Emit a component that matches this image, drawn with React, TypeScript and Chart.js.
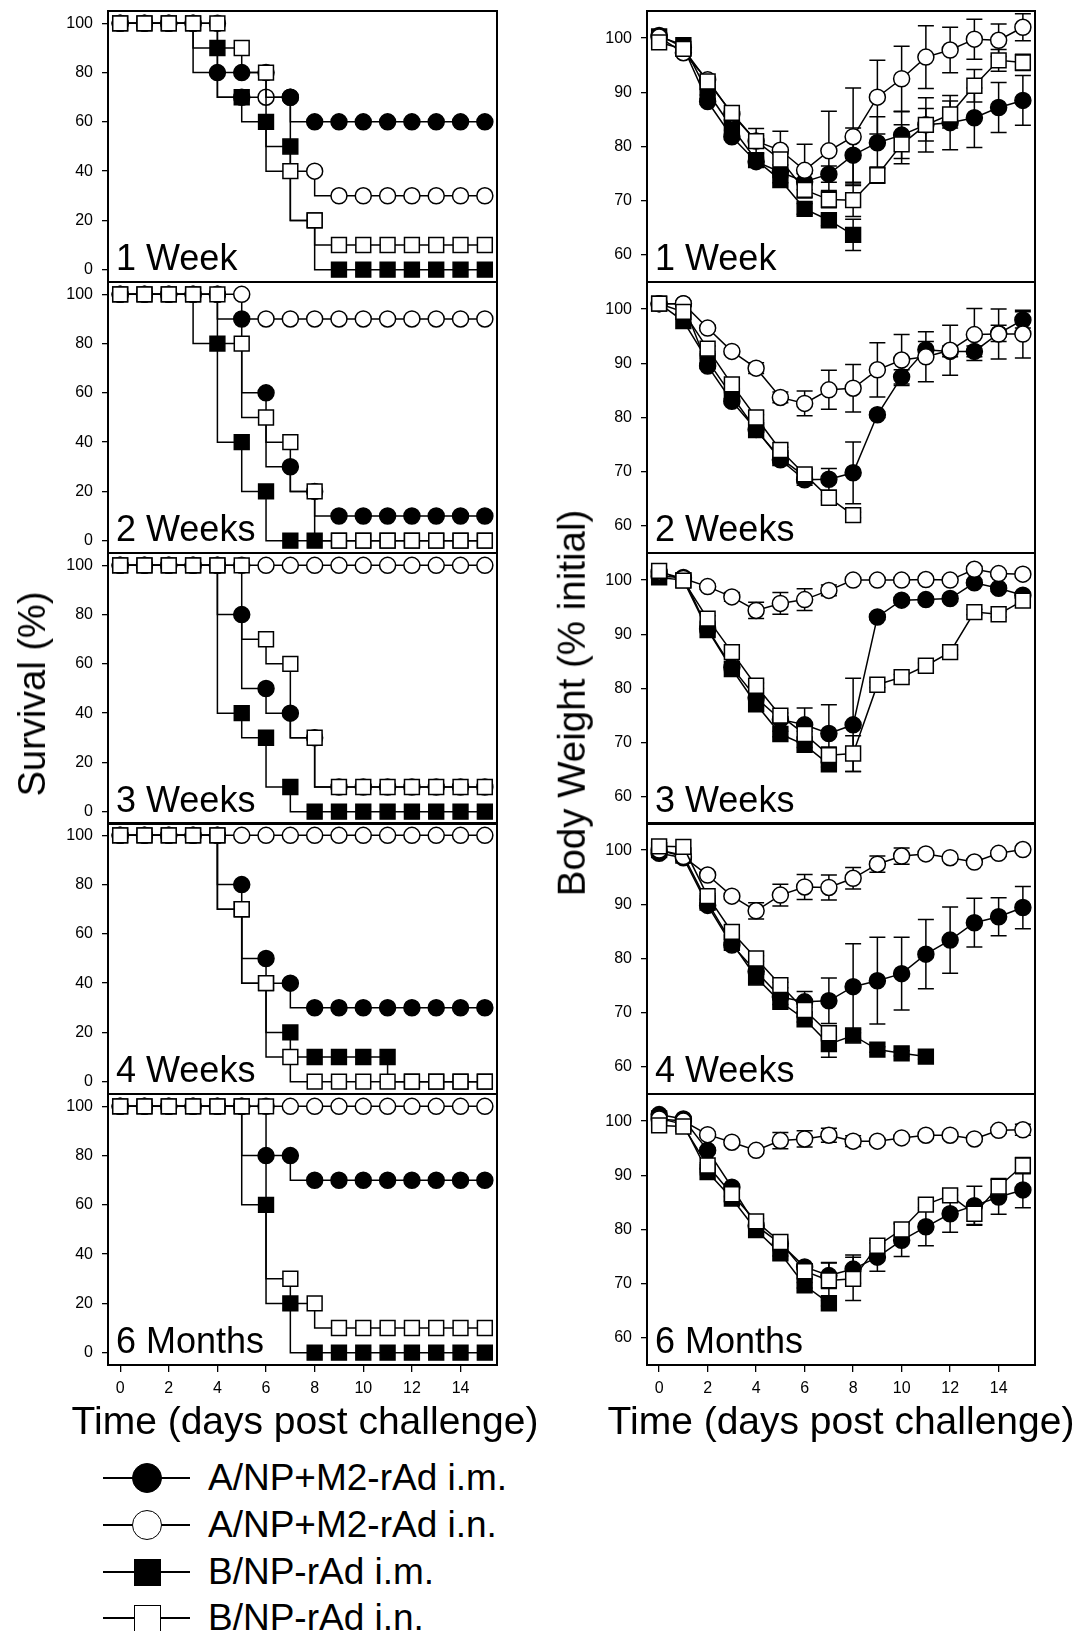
import React, { useEffect, useRef } from "react";
import { Chart, registerables } from "chart.js";

Chart.register(...registerables);

const FONT = '"Liberation Sans", Arial, Helvetica, sans-serif';

// ---------- categories / labels ----------
const days = [0, 1, 2, 3, 4, 5, 6, 7, 8, 9, 10, 11, 12, 13, 14, 15];
const dayTicks = [0, 2, 4, 6, 8, 10, 12, 14];
const survivalTicks = [0, 20, 40, 60, 80, 100];
const weightTicks = [60, 70, 80, 90, 100];
const panelLabels = ["1 Week", "2 Weeks", "3 Weeks", "4 Weeks", "6 Months"];
const groupNames = ["A/NP+M2-rAd i.m.", "A/NP+M2-rAd i.n.", "B/NP-rAd i.m.", "B/NP-rAd i.n."];

// ---------- survival (%) ----------
const sAim1w = [100, 100, 100, 100, 80, 80, 80, 70, 60, 60, 60, 60, 60, 60, 60, 60];
const sAin1w = [100, 100, 100, 100, 100, 70, 70, 70, 40, 30, 30, 30, 30, 30, 30, 30];
const sBim1w = [100, 100, 100, 100, 90, 70, 60, 50, 20, 0, 0, 0, 0, 0, 0, 0];
const sBin1w = [100, 100, 100, 100, 100, 90, 80, 40, 20, 10, 10, 10, 10, 10, 10, 10];

const sAim2w = [100, 100, 100, 100, 100, 90, 60, 30, 20, 10, 10, 10, 10, 10, 10, 10];
const sAin2w = [100, 100, 100, 100, 100, 100, 90, 90, 90, 90, 90, 90, 90, 90, 90, 90];
const sBim2w = [100, 100, 100, 100, 80, 40, 20, 0, 0, 0, 0, 0, 0, 0, 0, 0];
const sBin2w = [100, 100, 100, 100, 100, 80, 50, 40, 20, 0, 0, 0, 0, 0, 0, 0];

const sAim3w = [100, 100, 100, 100, 100, 80, 50, 40, 30, 10, 10, 10, 10, 10, 10, 10];
const sAin3w = [100, 100, 100, 100, 100, 100, 100, 100, 100, 100, 100, 100, 100, 100, 100, 100];
const sBim3w = [100, 100, 100, 100, 100, 40, 30, 10, 0, 0, 0, 0, 0, 0, 0, 0];
const sBin3w = [100, 100, 100, 100, 100, 100, 70, 60, 30, 10, 10, 10, 10, 10, 10, 10];

const sAim4w = [100, 100, 100, 100, 100, 80, 50, 40, 30, 30, 30, 30, 30, 30, 30, 30];
const sAin4w = [100, 100, 100, 100, 100, 100, 100, 100, 100, 100, 100, 100, 100, 100, 100, 100];
const sBim4w = [100, 100, 100, 100, 100, 70, 40, 20, 10, 10, 10, 10, 0, 0, 0, 0];
const sBin4w = [100, 100, 100, 100, 100, 70, 40, 10, 0, 0, 0, 0, 0, 0, 0, 0];

const sAim6m = [100, 100, 100, 100, 100, 100, 80, 80, 70, 70, 70, 70, 70, 70, 70, 70];
const sAin6m = [100, 100, 100, 100, 100, 100, 100, 100, 100, 100, 100, 100, 100, 100, 100, 100];
const sBim6m = [100, 100, 100, 100, 100, 100, 60, 20, 0, 0, 0, 0, 0, 0, 0, 0];
const sBin6m = [100, 100, 100, 100, 100, 100, 100, 30, 20, 10, 10, 10, 10, 10, 10, 10];

// ---------- body weight (% initial) and error bars ----------
const wAim1w = [100.5, 98.3, 88.3, 81.8, 77.2, 75.3, 73.5, 74.9, 78.4, 80.7, 82.1, 84.0, 84.4, 85.3, 87.2, 88.5];
const eAim1w = [0, 0, 0.5, 0.5, 0.6, 0.8, 1.5, 1.5, 5.0, 4.8, 4.3, 5.0, 5.0, 5.5, 4.6, 4.6];
const wAin1w = [100.2, 97.3, 92.3, 86.0, 81.0, 79.3, 75.6, 79.2, 81.8, 89.1, 92.5, 96.5, 97.8, 99.8, 99.6, 102.0];
const eAin1w = [0, 0.5, 0.5, 1.0, 2.3, 3.5, 4.8, 7.3, 9.0, 6.8, 6.0, 5.8, 4.2, 3.7, 3.0, 2.5];
const wBim1w = [100.3, 98.7, 90.0, 83.5, 77.5, 73.8, 68.5, 66.4, 63.7, null, null, null, null, null, null, null];
const eBim1w = [0, 0, 0.5, 0.5, 0.5, 0.5, 1.0, 1.0, 2.9, null, null, null, null, null, null, null];
const wBin1w = [99.2, 98.0, 92.0, 86.2, 81.0, 77.6, 72.0, 70.2, 70.1, 74.7, 80.4, 84.0, 85.9, 91.2, 95.9, 95.5];
const eBin1w = [0, 0, 0.5, 0.5, 1.0, 1.0, 1.5, 1.5, 3.0, 1.5, 3.6, 3.0, 2.5, 3.0, 2.0, 1.5];

const wAim2w = [101.0, 101.0, 89.5, 83.0, 77.8, 72.2, 68.5, 68.6, 69.8, 80.5, 87.5, 92.5, 92.2, 92.2, 95.5, 98.0];
const eAim2w = [0, 0.5, 0.5, 0.5, 0.5, 0.5, 1.0, 2.0, 5.7, 0.5, 1.3, 1.5, 1.0, 1.0, 1.5, 1.5];
const wAin2w = [101.0, 101.0, 96.5, 92.2, 89.1, 83.7, 82.6, 85.1, 85.4, 88.8, 90.6, 91.2, 92.4, 95.3, 95.4, 95.4];
const eAin2w = [0, 0, 0.5, 0.5, 1.0, 1.0, 2.3, 3.6, 4.4, 5.0, 4.7, 4.6, 4.6, 4.8, 4.6, 4.4];
const wBim2w = [101.0, 97.8, 90.5, 84.0, 77.7, 72.5, 69.2, null, null, null, null, null, null, null, null, null];
const eBim2w = [0, 0, 0.5, 0.5, 0.5, 0.5, 0.5, null, null, null, null, null, null, null, null, null];
const wBin2w = [101.0, 99.5, 92.7, 86.1, 80.0, 74.0, 69.5, 65.2, 62.0, null, null, null, null, null, null, null];
const eBin2w = [0, 0, 0.5, 0.5, 0.5, 0.5, 0.5, 0.5, 0.5, null, null, null, null, null, null, null];

const wAim3w = [100.7, 100.5, 91.0, 83.9, 78.3, 74.3, 73.3, 71.7, 73.3, 93.2, 96.3, 96.4, 96.6, 99.5, 98.5, 97.2];
const eAim3w = [0, 0, 0.5, 0.5, 0.5, 0.5, 3.1, 5.3, 8.6, 0.5, 0.5, 0.5, 0.5, 0.5, 0.5, 0.5];
const wAin3w = [101.5, 100.3, 98.8, 96.9, 94.4, 95.7, 96.4, 98.1, 100.0, 100.0, 100.0, 100.1, 100.0, 102.0, 101.2, 101.1];
const eAin3w = [0, 0, 0.5, 0.8, 1.5, 2.0, 2.0, 1.0, 0.5, 0.5, 0.5, 0.5, 0.5, 0.5, 0.5, 0.5];
const wBim3w = [100.5, 100.0, 90.8, 83.6, 77.1, 71.6, 69.6, 66.0, null, null, null, null, null, null, null, null];
const eBim3w = [0, 0, 0.5, 0.5, 0.5, 0.5, 0.5, 0.5, null, null, null, null, null, null, null, null];
const wBin3w = [101.7, 99.9, 92.9, 86.7, 80.5, 75.0, 71.6, 67.7, 68.0, 80.7, 82.1, 84.2, 86.7, 94.1, 93.7, 96.2];
const eBin3w = [0, 0, 0.5, 0.5, 0.5, 0.5, 0.5, 1.5, 3.3, 0.5, 0.5, 0.5, 0.5, 0.5, 0.5, 0.5];

const wAim4w = [99.4, 98.6, 89.8, 82.5, 77.6, 72.9, 72.0, 72.2, 74.8, 75.9, 77.2, 80.8, 83.4, 86.6, 87.7, 89.4];
const eAim4w = [0, 0, 0.5, 0.5, 0.5, 0.5, 1.9, 4.2, 7.9, 8.0, 6.7, 6.4, 6.1, 4.5, 3.5, 3.9];
const wAin4w = [100.0, 98.8, 95.4, 91.5, 88.8, 91.7, 93.2, 93.1, 94.8, 97.4, 98.9, 99.3, 98.6, 97.8, 99.4, 100.1];
const eAin4w = [0, 0.5, 0.5, 0.5, 1.5, 2.0, 2.3, 2.3, 2.0, 1.5, 1.5, 0.5, 0.5, 0.5, 0.5, 0.5];
const wBim4w = [100.0, 99.0, 90.3, 82.9, 76.5, 72.0, 68.8, 64.2, 65.8, 63.2, 62.5, 61.9, null, null, null, null];
const eBim4w = [0, 0, 0.5, 0.5, 0.5, 0.5, 0.5, 2.4, 0.5, 0.5, 0.5, 0.5, null, null, null, null];
const wBin4w = [100.7, 100.6, 91.5, 84.9, 80.0, 75.1, 70.5, 66.2, null, null, null, null, null, null, null, null];
const eBin4w = [0, 0, 0.5, 0.5, 0.5, 0.5, 0.5, 0.5, null, null, null, null, null, null, null, null];

const wAim6m = [101.2, 100.4, 94.6, 87.8, 80.7, 77.4, 73.1, 71.5, 72.7, 74.9, 78.0, 80.5, 82.9, 84.4, 86.0, 87.3];
const eAim6m = [0, 0, 0.5, 0.5, 0.5, 0.5, 0.5, 2.4, 2.6, 2.6, 3.0, 3.5, 3.4, 3.6, 3.2, 3.3];
const wAin6m = [100.4, 100.0, 97.5, 96.1, 94.6, 96.4, 96.7, 97.4, 96.3, 96.3, 96.9, 97.4, 97.4, 96.7, 98.3, 98.4];
const eAin6m = [0, 0, 0.5, 0.5, 0.5, 1.5, 1.5, 1.3, 1.0, 0.5, 0.5, 0.5, 0.5, 0.5, 0.5, 1.0];
const wBim6m = [100.5, 99.4, 90.6, 85.7, 79.9, 75.6, 69.7, 66.4, null, null, null, null, null, null, null, null];
const eBim6m = [0, 0, 0.5, 0.5, 0.5, 0.5, 0.5, 0.5, null, null, null, null, null, null, null, null];
const wBin6m = [99.2, 99.0, 91.8, 86.5, 81.5, 77.7, 72.3, 70.6, 70.9, 77.0, 80.0, 84.6, 86.3, 82.9, 87.9, 91.8];
const eBin6m = [0, 0, 0.5, 0.5, 0.5, 0.5, 1.0, 3.2, 4.0, 1.0, 1.2, 1.0, 1.0, 2.0, 1.5, 1.5];

const survivalSeries = [
  [sAim1w, sAin1w, sBim1w, sBin1w],
  [sAim2w, sAin2w, sBim2w, sBin2w],
  [sAim3w, sAin3w, sBim3w, sBin3w],
  [sAim4w, sAin4w, sBim4w, sBin4w],
  [sAim6m, sAin6m, sBim6m, sBin6m],
];
const weightSeries = [
  [wAim1w, wAin1w, wBim1w, wBin1w],
  [wAim2w, wAin2w, wBim2w, wBin2w],
  [wAim3w, wAin3w, wBim3w, wBin3w],
  [wAim4w, wAin4w, wBim4w, wBin4w],
  [wAim6m, wAin6m, wBim6m, wBin6m],
];
const weightErrors = [
  [eAim1w, eAin1w, eBim1w, eBin1w],
  [eAim2w, eAin2w, eBim2w, eBin2w],
  [eAim3w, eAin3w, eBim3w, eBin3w],
  [eAim4w, eAin4w, eBim4w, eBin4w],
  [eAim6m, eAin6m, eBim6m, eBin6m],
];

// ---------- styling / layout ----------
const groupStyles = [
  { pointStyle: "circle", fill: "#000000", survOrder: 2, bwOrder: 3 },
  { pointStyle: "circle", fill: "#ffffff", survOrder: 3, bwOrder: 1 },
  { pointStyle: "rect", fill: "#000000", survOrder: 1, bwOrder: 2 },
  { pointStyle: "rect", fill: "#ffffff", survOrder: 0, bwOrder: 0 },
];

const PANEL_TOPS = [11, 282, 553, 823, 1094];
const PANEL_H = 271;
const PAD_V = 22;
const PAD_R = 16;
const Y_AXIS_W = 60;
const X_AXIS_H = 50;
const TICK_FONT = 16;

type Vals = (number | null)[];

function makePlugins(label: string, values: Vals[] | null, errors: Vals[] | null) {
  const errorBars = {
    id: "errorBars",
    beforeDatasetsDraw(chart: any) {
      if (!errors || !values) return;
      const ctx = chart.ctx;
      const xs = chart.scales.x;
      const ys = chart.scales.y;
      ctx.save();
      ctx.strokeStyle = "#000";
      ctx.lineWidth = 1.5;
      errors.forEach((errArr, g) => {
        const vals = values[g] || [];
        errArr.forEach((e, i) => {
          const v = vals[i];
          if (v === null || v === undefined || e === null || e === undefined || !e) return;
          const x = xs.getPixelForValue(days[i]);
          const yt = ys.getPixelForValue(v + e);
          const yb = ys.getPixelForValue(v - e);
          ctx.beginPath();
          ctx.moveTo(x, yt);
          ctx.lineTo(x, yb);
          ctx.moveTo(x - 8, yt);
          ctx.lineTo(x + 8, yt);
          ctx.moveTo(x - 8, yb);
          ctx.lineTo(x + 8, yb);
          ctx.stroke();
        });
      });
      ctx.restore();
    },
  };
  const frame = {
    id: "frameAndLabel",
    afterDraw(chart: any) {
      const { ctx, chartArea } = chart;
      ctx.save();
      ctx.strokeStyle = "#000";
      ctx.lineWidth = 2;
      ctx.strokeRect(chartArea.left, chartArea.top, chartArea.right - chartArea.left, chartArea.bottom - chartArea.top);
      ctx.fillStyle = "#000";
      ctx.font = `36px ${FONT}`;
      ctx.textAlign = "left";
      ctx.textBaseline = "alphabetic";
      ctx.fillText(label, chartArea.left + 8, chartArea.bottom - 12);
      ctx.restore();
    },
  };
  return [errorBars, frame];
}

function buildConfig(kind: "survival" | "weight", index: number): any {
  const isSurv = kind === "survival";
  const series: Vals[] = isSurv ? survivalSeries[index] : weightSeries[index];
  const isBottom = index === panelLabels.length - 1;
  const datasets = series.map((vals, g) => {
    const st = groupStyles[g];
    const pts: { x: number; y: number }[] = [];
    vals.forEach((v, i) => {
      if (v !== null) pts.push({ x: days[i], y: v });
    });
    const r = st.pointStyle === "rect" ? 10.5 : 8;
    return {
      label: groupNames[g],
      data: pts,
      borderColor: "#000",
      borderWidth: 1.5,
      backgroundColor: st.fill,
      pointBackgroundColor: st.fill,
      pointBorderColor: "#000",
      pointBorderWidth: 1.5,
      pointStyle: st.pointStyle,
      pointRadius: r,
      pointHoverRadius: r,
      stepped: isSurv ? "after" : false,
      tension: 0,
      fill: false,
      order: isSurv ? st.survOrder : st.bwOrder,
      clip: false,
    };
  });
  const yTicks = isSurv ? survivalTicks : weightTicks;
  return {
    type: "line",
    data: { datasets },
    options: {
      responsive: false,
      animation: false,
      events: [],
      layout: { padding: { top: PAD_V, right: PAD_R, bottom: isBottom ? 0 : PAD_V, left: 0 } },
      plugins: { legend: { display: false }, tooltip: { enabled: false } },
      scales: {
        x: {
          type: "linear",
          min: -0.5,
          max: 15.5,
          display: isBottom,
          afterBuildTicks: (s: any) => {
            s.ticks = dayTicks.map((v) => ({ value: v }));
          },
          afterFit: (s: any) => {
            s.height = isBottom ? X_AXIS_H : 0;
          },
          grid: { display: true, drawOnChartArea: false, drawTicks: true, tickLength: 7, color: "#000", lineWidth: 1.3 },
          border: { display: false },
          ticks: { color: "#000", font: { size: TICK_FONT, family: FONT }, padding: 7, maxRotation: 0, autoSkip: false },
        },
        y: {
          type: "linear",
          min: isSurv ? -5 : 55,
          max: 105,
          afterBuildTicks: (s: any) => {
            s.ticks = yTicks.map((v) => ({ value: v }));
          },
          afterFit: (s: any) => {
            s.width = Y_AXIS_W;
          },
          grid: { display: true, drawOnChartArea: false, drawTicks: true, tickLength: 6, color: "#000", lineWidth: 1.3 },
          border: { display: false },
          ticks: { color: "#000", font: { size: TICK_FONT, family: FONT }, padding: 9, autoSkip: false },
        },
      },
    },
    plugins: makePlugins(
      panelLabels[index],
      isSurv ? null : weightSeries[index],
      isSurv ? null : weightErrors[index]
    ),
  };
}

function PanelChart({ kind, index }: { kind: "survival" | "weight"; index: number }) {
  const ref = useRef<HTMLCanvasElement | null>(null);
  const isBottom = index === panelLabels.length - 1;
  const left = kind === "survival" ? 108 - Y_AXIS_W : 647 - Y_AXIS_W;
  const width = kind === "survival" ? Y_AXIS_W + 389 + PAD_R : Y_AXIS_W + 388 + PAD_R;
  const top = PANEL_TOPS[index] - PAD_V;
  const height = PAD_V + PANEL_H + (isBottom ? X_AXIS_H : PAD_V);
  useEffect(() => {
    const canvas = ref.current;
    if (!canvas) return;
    const chart = new Chart(canvas, buildConfig(kind, index));
    return () => chart.destroy();
  }, [kind, index]);
  return (
    <canvas
      ref={ref}
      width={width}
      height={height}
      style={{ position: "absolute", left, top, width, height }}
    />
  );
}

function LegendRow({ g, cy }: { g: number; cy: number }) {
  const st = groupStyles[g];
  const isRect = st.pointStyle === "rect";
  const size = isRect ? 27 : 30;
  return (
    <>
      <div style={{ position: "absolute", left: 103, top: cy - 0.75, width: 87, height: 1.5, background: "#000" }} />
      <div
        style={{
          position: "absolute",
          left: 147 - size / 2,
          top: cy - size / 2,
          width: size,
          height: size,
          boxSizing: "border-box",
          border: "1.5px solid #000",
          borderRadius: isRect ? 0 : "50%",
          background: st.fill,
        }}
      />
      <div
        style={{
          position: "absolute",
          left: 208,
          top: cy - 21,
          height: 42,
          lineHeight: "42px",
          fontSize: 37,
          whiteSpace: "nowrap",
        }}
      >
        {groupNames[g]}
      </div>
    </>
  );
}

export default function App() {
  const legendY = [1478, 1525, 1572, 1618];
  const titleBase: React.CSSProperties = {
    position: "absolute",
    whiteSpace: "nowrap",
    lineHeight: 1,
    color: "#000",
  };
  return (
    <div
      style={{
        position: "absolute",
        left: 0,
        top: 0,
        width: 1075,
        height: 1631,
        background: "#fff",
        fontFamily: FONT,
        color: "#000",
        overflow: "hidden",
      }}
    >
      {panelLabels.map((_, i) => (
        <PanelChart key={"s" + i} kind="survival" index={i} />
      ))}
      {panelLabels.map((_, i) => (
        <PanelChart key={"w" + i} kind="weight" index={i} />
      ))}
      <div style={{ ...titleBase, left: 32, top: 694, fontSize: 38, transform: "translate(-50%, -50%) rotate(-90deg)" }}>
        Survival (%)
      </div>
      <div style={{ ...titleBase, left: 572, top: 703, fontSize: 38.5, transform: "translate(-50%, -50%) rotate(-90deg)" }}>
        Body Weight (% initial)
      </div>
      <div style={{ ...titleBase, left: 305, top: 1420, fontSize: 39, transform: "translate(-50%, -50%)" }}>
        Time (days post challenge)
      </div>
      <div style={{ ...titleBase, left: 841, top: 1420, fontSize: 39, transform: "translate(-50%, -50%)" }}>
        Time (days post challenge)
      </div>
      {groupNames.map((_, g) => (
        <LegendRow key={g} g={g} cy={legendY[g]} />
      ))}
    </div>
  );
}
